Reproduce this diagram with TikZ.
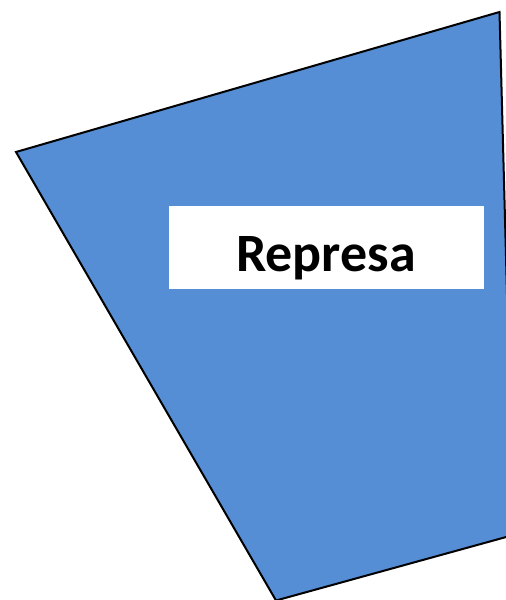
\documentclass[tikz,border=0pt]{standalone}
\usepackage{fontspec}
\setmainfont{Carlito}
\definecolor{damblue}{RGB}{85,142,213}
\tikzset{
  damshape/.style={fill=damblue, draw=black, line width=2pt, line join=miter},
  labelbox/.style={fill=white, inner sep=0pt, minimum width=315pt, minimum height=83pt},
  labeltext/.style={inner sep=0pt, anchor=base, font=\bfseries\fontsize{54}{54}\selectfont}
}
\begin{document}
\begin{tikzpicture}[x=1pt,y=-1pt]
\useasboundingbox (0,0) rectangle (506,600);
\begin{scope}
\clip (0,0) rectangle (506,600);
\draw[damshape] (16,152) -- (499.5,12) -- (513.4,535) -- (276,600.5) -- cycle;
\end{scope}
\node[labelbox] (lbl) at (326.5,247.5) {};
\node[labeltext] (lbltext) at (326,271) {Represa};
\end{tikzpicture}
\end{document}
